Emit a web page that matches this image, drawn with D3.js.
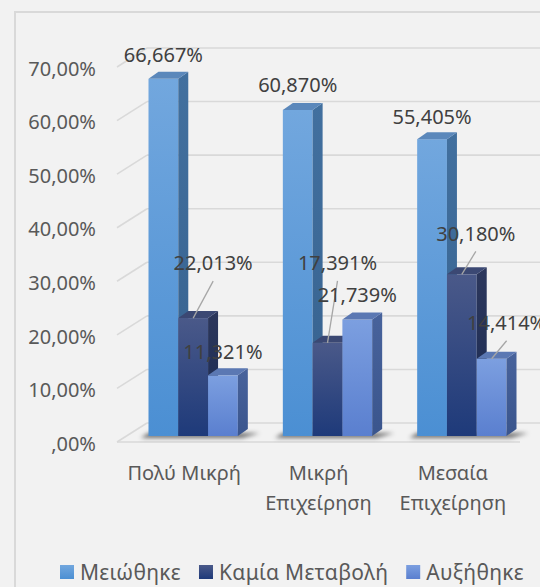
<!DOCTYPE html>
<html><head><meta charset="utf-8">
<script src="https://cdn.jsdelivr.net/npm/d3@7"></script>
<style>body{margin:0;background:#f2f2f2;overflow:hidden}</style></head>
<body><svg id="c" width="540" height="587"></svg>
<script>
// ---- data ----
const categories = [["Πολύ Μικρή"], ["Μικρή", "Επιχείρηση"], ["Μεσαία", "Επιχείρηση"]];
const seriesNames = ["Μειώθηκε", "Καμία Μεταβολή", "Αυξήθηκε"];
const meiothike = [66.667, 60.870, 55.405];
const kamiaMetavoli = [22.013, 17.391, 30.180];
const afxithike = [11.321, 21.739, 14.414];
const tickValues = [0, 10, 20, 30, 40, 50, 60, 70];
const tickLabels = [",00%", "10,00%", "20,00%", "30,00%", "40,00%", "50,00%", "60,00%", "70,00%"];

const series = [meiothike, kamiaMetavoli, afxithike];

// ---- style / layout ----
const W = 540, H = 587;
const FONT = "'Noto Sans', 'DejaVu Sans', sans-serif";
const frontBase = 442, backBase = 423, barBase = 436;
const wallLeftFront = 117, wallLeftBack = 147, floorRight = 520;
const barDX = 10, barDY = 7;
const colors = [
  {top: "#5b88bb", side: ["#42709f", "#36618e"], front: ["#72a7de", "#4b8fd3"]},
  {top: "#3b4873", side: ["#2c375c", "#1a2a52"], front: ["#4a5989", "#1e3a7a"]},
  {top: "#5b78b3", side: ["#48639c", "#3a558d"], front: ["#7c9fe0", "#5a7fcf"]}
];
// label offsets relative to front-top-center of bar: [dx, dy, leader]
const labelPlacement = [
  [[0, -24, false], [20, -55, true], [0, -24, false]],
  [[0, -25, false], [10, -80, true], [0, -25, false]],
  [[0, -22, false], [14, -41, true], [15, -36, true]]
];

const svg = d3.select("#c");
const defs = svg.append("defs");
colors.forEach((c, i) => {
  const gf = defs.append("linearGradient").attr("id", "gf" + i).attr("x1", 0).attr("y1", 0).attr("x2", 0).attr("y2", 1);
  gf.append("stop").attr("offset", 0).attr("stop-color", c.front[0]);
  gf.append("stop").attr("offset", 1).attr("stop-color", c.front[1]);
  const gs = defs.append("linearGradient").attr("id", "gs" + i).attr("x1", 0).attr("y1", 0).attr("x2", 0).attr("y2", 1);
  gs.append("stop").attr("offset", 0).attr("stop-color", c.side[0]);
  gs.append("stop").attr("offset", 1).attr("stop-color", c.side[1]);
});
defs.append("filter").attr("id", "blur").attr("x", "-50%").attr("y", "-200%").attr("width", "200%").attr("height", "500%")
  .append("feGaussianBlur").attr("stdDeviation", 2);

svg.append("rect").attr("width", W).attr("height", H).attr("fill", "#f2f2f2");
svg.append("rect").attr("x", 15).attr("y", 12).attr("width", 600).attr("height", 700)
  .attr("fill", "none").attr("stroke", "#d9d9d9").attr("stroke-width", 2);

const y = d3.scaleLinear().domain([0, 70]).range([0, 375]);
const x = d3.scaleBand().domain(d3.range(categories.length)).range([wallLeftFront, floorRight]);
const depthShift = 9;
const groupW = x.bandwidth() * 0.665;
const xs = d3.scaleBand().domain(d3.range(series.length)).range([0, groupW]);

// gridlines
const grid = svg.append("g").attr("stroke", "#d9d9d9").attr("stroke-width", 1.6).attr("fill", "none");
tickValues.forEach(v => {
  grid.append("line").attr("x1", wallLeftBack).attr("x2", 580).attr("y1", backBase - y(v)).attr("y2", backBase - y(v));
  grid.append("line").attr("x1", wallLeftFront).attr("x2", wallLeftBack).attr("y1", frontBase - y(v)).attr("y2", backBase - y(v));
});
grid.append("line").attr("x1", wallLeftFront).attr("x2", floorRight).attr("y1", frontBase).attr("y2", frontBase);

// y labels
svg.append("g").selectAll("text").data(tickValues).join("text")
  .attr("x", 96).attr("y", v => frontBase - y(v) + 1.5).attr("dy", "0.36em")
  .attr("text-anchor", "end").attr("font-family", FONT).attr("font-size", 20).attr("fill", "#595959")
  .text((v, i) => tickLabels[i]);

// shadows
const sh = svg.append("g").attr("filter", "url(#blur)");
categories.forEach((c, g) => {
  const gx = x(g) + x.bandwidth() / 2 + depthShift - groupW / 2;
  sh.append("path").attr("fill", "#000").attr("opacity", 0.55)
    .attr("d", `M${gx - 8},${barBase + 2} L${gx + groupW + 4},${barBase + 2} L${gx + groupW + barDX + 12},${barBase - barDY + 4} L${gx},${barBase - barDY + 4} Z`);
});

// bars
const bars = svg.append("g");
const barInfo = [];
categories.forEach((c, g) => {
  const gx = x(g) + x.bandwidth() / 2 + depthShift - groupW / 2;
  series.forEach((s, si) => {
    const v = s[g];
    const x0 = gx + xs(si), w = xs.bandwidth();
    const top = barBase - y(v);
    const b = bars.append("g");
    b.append("rect").attr("x", x0).attr("y", top).attr("width", w).attr("height", barBase - top).attr("fill", `url(#gf${si})`);
    b.append("path").attr("fill", `url(#gs${si})`)
      .attr("d", `M${x0 + w},${top} L${x0 + w + barDX},${top - barDY} L${x0 + w + barDX},${barBase - barDY} L${x0 + w},${barBase} Z`);
    b.append("path").attr("fill", colors[si].top)
      .attr("d", `M${x0},${top} L${x0 + barDX},${top - barDY} L${x0 + w + barDX},${top - barDY} L${x0 + w},${top} Z`);
    barInfo.push({g, si, v, cx: x0 + w / 2, top});
  });
});

// data labels
const fmt = v => d3.format(".3f")(v).replace(".", ",") + "%";
const lab = svg.append("g");
barInfo.forEach(d => {
  const [ox, oy, leader] = labelPlacement[d.g][d.si];
  const lx = d.cx + ox, ly = d.top + oy;
  if (leader) {
    lab.append("line").attr("x1", d.cx).attr("y1", d.top).attr("x2", lx).attr("y2", ly + 18)
      .attr("stroke", "#a6a6a6").attr("stroke-width", 1.3);
  }
  lab.append("text").attr("x", lx).attr("y", ly).attr("dy", "0.36em").attr("text-anchor", "middle")
    .attr("font-family", FONT).attr("font-size", 20).attr("fill", "#404040").text(fmt(d.v));
});

// category labels
categories.forEach((lines, g) => {
  const t = svg.append("text").attr("text-anchor", "middle").attr("font-family", FONT)
    .attr("font-size", 20).attr("fill", "#595959");
  lines.forEach((ln, i) => {
    t.append("tspan").attr("x", x(g) + x.bandwidth() / 2).attr("y", 480 + i * 30).text(ln);
  });
});

// legend
const leg = svg.append("g");
let lxPos = 60;
seriesNames.forEach((n, i) => {
  leg.append("rect").attr("x", lxPos).attr("y", 565).attr("width", 14).attr("height", 14).attr("fill", `url(#gf${i})`);
  const t = leg.append("text").attr("x", lxPos + 20).attr("y", 572).attr("dy", "0.36em")
    .attr("font-family", FONT).attr("font-size", 21).attr("letter-spacing", 0.3).attr("fill", "#595959").text(n);
  lxPos += 20 + t.node().getComputedTextLength() + 18;
});
</script></body></html>
